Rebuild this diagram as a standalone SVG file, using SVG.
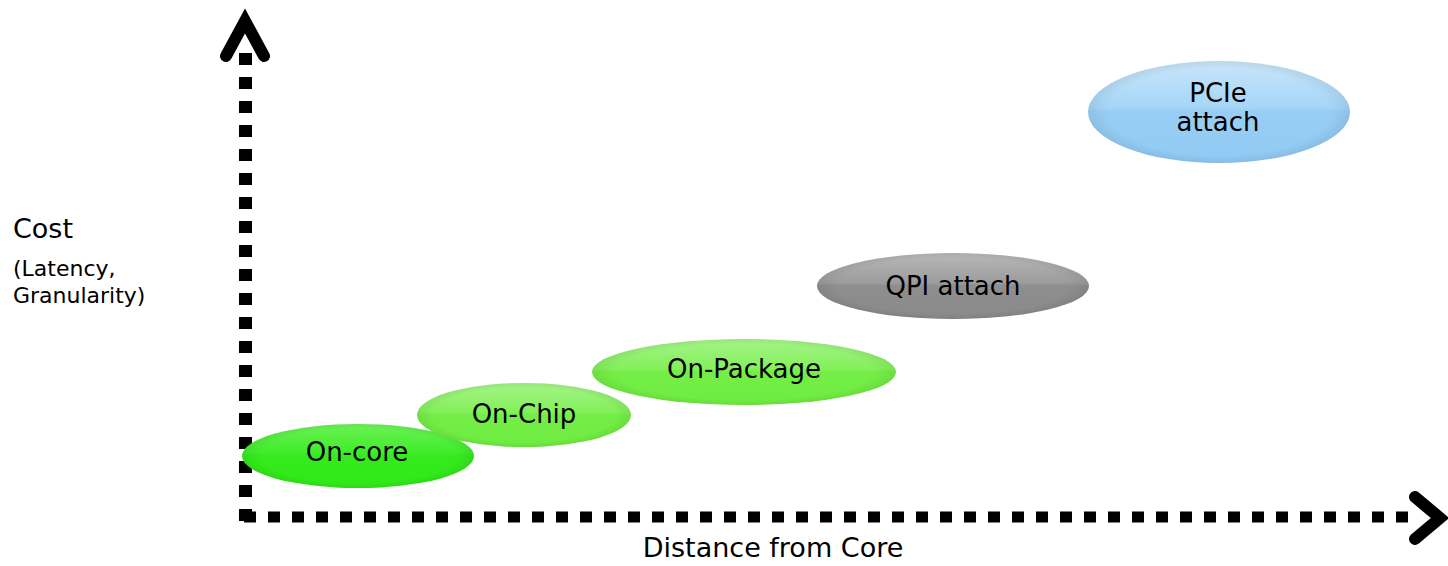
<svg xmlns="http://www.w3.org/2000/svg" width="1448" height="566" viewBox="0 0 1448 566">
  <defs>
    <linearGradient id="gCore" x1="0" y1="0" x2="0" y2="1">
      <stop offset="0" stop-color="#6cf256"/>
      <stop offset="0.45" stop-color="#40ec2a"/>
      <stop offset="0.5" stop-color="#34ea1c"/>
      <stop offset="1" stop-color="#30e818"/>
    </linearGradient>
    <linearGradient id="gLight" x1="0" y1="0" x2="0" y2="1">
      <stop offset="0" stop-color="#a4f488"/>
      <stop offset="0.45" stop-color="#84f05a"/>
      <stop offset="0.5" stop-color="#74ee46"/>
      <stop offset="1" stop-color="#6eec40"/>
    </linearGradient>
    <linearGradient id="gGrey" x1="0" y1="0" x2="0" y2="1">
      <stop offset="0" stop-color="#b8b8b8"/>
      <stop offset="0.45" stop-color="#9c9c9c"/>
      <stop offset="0.5" stop-color="#8e8e8e"/>
      <stop offset="1" stop-color="#8a8a8a"/>
    </linearGradient>
    <linearGradient id="gBlue" x1="0" y1="0" x2="0" y2="1">
      <stop offset="0" stop-color="#c8e6fa"/>
      <stop offset="0.45" stop-color="#a6d6f7"/>
      <stop offset="0.5" stop-color="#98cef5"/>
      <stop offset="1" stop-color="#90caf4"/>
    </linearGradient>
    <radialGradient id="edge" cx="0.5" cy="0.5" r="0.5">
      <stop offset="0.85" stop-color="#000" stop-opacity="0"/>
      <stop offset="1" stop-color="#000" stop-opacity="0.07"/>
    </radialGradient>
  </defs>
  <style>
    .lbl { font-family: "DejaVu Sans", Verdana, sans-serif; fill: #000; }
    .node { font-size: 26px; text-anchor: middle; }
    .axis { stroke: #000; fill: none; }
    .dots { stroke-dasharray: 12 12; }
    .head { stroke-width: 12; stroke-linecap: round; stroke-linejoin: miter; }
  </style>

  <g id="connectors">
    <line class="axis dots" x1="245.5" y1="53" x2="245.5" y2="521" stroke-width="13"/>
    <line class="axis dots" x1="244" y1="517" x2="1420" y2="517" stroke-width="11"/>
    <polyline class="axis head" points="226,56 245,21 264,56"/>
    <polyline class="axis head" points="1415,497 1440,518 1415,539"/>
  </g>

  <g id="node-on-core">
    <ellipse cx="358" cy="456" rx="116" ry="32" fill="url(#gCore)"/>
    <ellipse cx="358" cy="456" rx="116" ry="32" fill="url(#edge)"/>
    <text class="lbl node" x="357" y="461">On-core</text>
  </g>
  <g id="node-on-chip">
    <ellipse cx="524" cy="415" rx="107" ry="32" fill="url(#gLight)"/>
    <ellipse cx="524" cy="415" rx="107" ry="32" fill="url(#edge)"/>
    <text class="lbl node" x="524" y="423">On-Chip</text>
  </g>
  <g id="node-on-package">
    <ellipse cx="744" cy="372" rx="152" ry="33" fill="url(#gLight)"/>
    <ellipse cx="744" cy="372" rx="152" ry="33" fill="url(#edge)"/>
    <text class="lbl node" x="744" y="378">On-Package</text>
  </g>
  <g id="node-qpi">
    <ellipse cx="953" cy="286" rx="136" ry="33" fill="url(#gGrey)"/>
    <ellipse cx="953" cy="286" rx="136" ry="33" fill="url(#edge)"/>
    <text class="lbl node" x="953" y="295">QPI attach</text>
  </g>
  <g id="node-pcie">
    <ellipse cx="1219" cy="112" rx="131" ry="51" fill="url(#gBlue)"/>
    <ellipse cx="1219" cy="112" rx="131" ry="51" fill="url(#edge)"/>
    <text class="lbl node" x="1218" y="102">PCIe</text>
    <text class="lbl node" x="1218" y="131">attach</text>
  </g>

  <g id="axis-labels">
    <text class="lbl" x="13" y="238" font-size="27">Cost</text>
    <text class="lbl" x="13" y="276" font-size="22">(Latency,</text>
    <text class="lbl" x="13" y="303" font-size="22">Granularity)</text>
    <text class="lbl" x="773" y="557" font-size="27" text-anchor="middle">Distance from Core</text>
  </g>
</svg>
